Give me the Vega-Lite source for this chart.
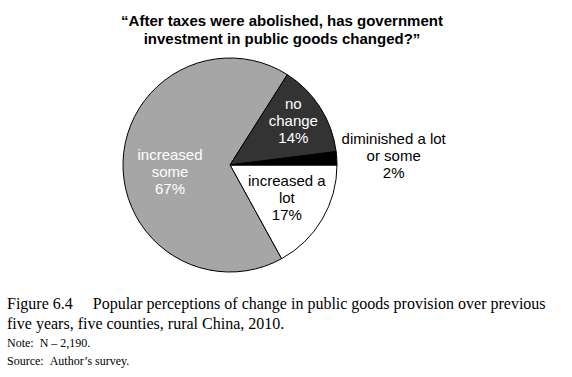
{
  "$schema": "https://vega.github.io/schema/vega-lite/v6.json",
  "background": "white",
  "padding": {"left": 7, "top": 14, "right": 5, "bottom": 5},
  "config": {"view": {"stroke": null}},
  "title": {
    "text": ["Figure 6.4\u00a0\u00a0\u00a0\u00a0\u00a0Popular perceptions of change in public goods provision over previous", "five years, five counties, rural China, 2010."],
    "subtitle": ["Note:\u00a0\u00a0N – 2,190.", "Source:\u00a0\u00a0Author’s survey."],
    "orient": "bottom",
    "anchor": "start",
    "font": "Liberation Serif",
    "fontSize": 16,
    "fontWeight": "normal",
    "color": "#000000",
    "lineHeight": 20,
    "offset": 21,
    "subtitleFont": "Liberation Serif",
    "subtitleFontSize": 12,
    "subtitleColor": "#000000",
    "subtitleLineHeight": 18,
    "subtitlePadding": 6
  },
  "vconcat": [
    {
      "width": 446,
      "height": 220,
      "title": {
        "text": ["“After taxes were abolished, has government", "investment in public goods changed?”"],
        "anchor": "middle",
        "dx": 52,
        "font": "Liberation Sans",
        "fontSize": 15,
        "fontWeight": "bold",
        "color": "#000000",
        "lineHeight": 18,
        "offset": 7
      },
      "data": {
        "values": [
          {"answer": "increased a lot", "pct": 17, "order": 1, "label": "increased a\nlot\n17%"},
          {"answer": "increased some", "pct": 67, "order": 2, "label": "increased\nsome\n67%"},
          {"answer": "no change", "pct": 14, "order": 3, "label": "no\nchange\n14%"},
          {"answer": "diminished a lot or some", "pct": 2, "order": 4, "label": "diminished a lot\nor some\n2%"}
        ]
      },
      "encoding": {
        "theta": {"field": "pct", "type": "quantitative", "stack": true, "scale": {"range": [1.5708, 7.854]}},
        "order": {"field": "order", "type": "quantitative"}
      },
      "layer": [
        {
          "mark": {"type": "arc", "radius": 107, "stroke": "#000000", "strokeWidth": 1},
          "encoding": {
            "color": {
              "field": "answer",
              "type": "nominal",
              "scale": {"domain": ["increased a lot", "increased some", "no change", "diminished a lot or some"], "range": ["#ffffff", "#a6a6a6", "#333333", "#000000"]},
              "legend": null
            }
          }
        },
        {
          "mark": {"type": "text", "radius": 60, "dy": -8, "font": "Liberation Sans", "fontSize": 15, "lineHeight": 17, "lineBreak": "\n", "align": "center", "baseline": "middle", "color": "#ffffff"},
          "encoding": {
            "text": {"condition": {"test": "datum.answer === 'increased some'", "field": "label"}, "value": ""}
          }
        },
        {
          "mark": {"type": "text", "radius": 75, "dy": -21, "font": "Liberation Sans", "fontSize": 15, "lineHeight": 17, "lineBreak": "\n", "align": "center", "baseline": "middle", "color": "#ffffff"},
          "encoding": {
            "text": {"condition": {"test": "datum.answer === 'no change'", "field": "label"}, "value": ""}
          }
        },
        {
          "mark": {"type": "text", "radius": 66, "dy": -18, "font": "Liberation Sans", "fontSize": 15, "lineHeight": 17, "lineBreak": "\n", "align": "center", "baseline": "middle", "color": "#000000"},
          "encoding": {
            "text": {"condition": {"test": "datum.answer === 'increased a lot'", "field": "label"}, "value": ""}
          }
        },
        {
          "mark": {"type": "text", "radius": 164, "dy": -16, "font": "Liberation Sans", "fontSize": 15, "lineHeight": 17, "lineBreak": "\n", "align": "center", "baseline": "middle", "color": "#000000"},
          "encoding": {
            "text": {"condition": {"test": "datum.answer === 'diminished a lot or some'", "field": "label"}, "value": ""}
          }
        }
      ]
    }
  ]
}
